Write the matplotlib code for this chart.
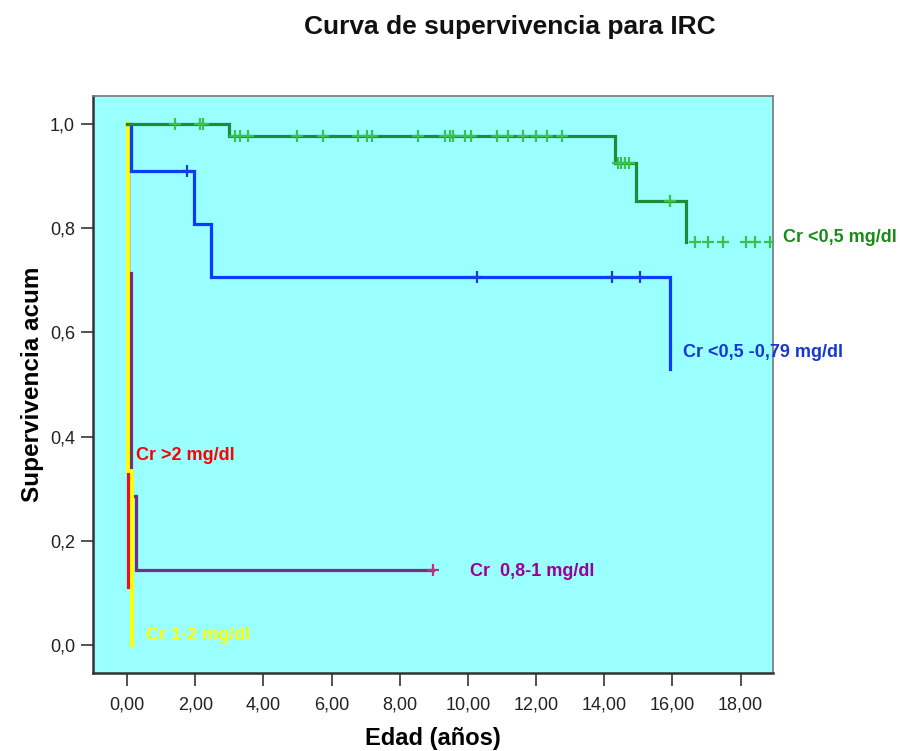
import numpy as np
import matplotlib
matplotlib.use("Agg")
from matplotlib import pyplot as plt

# Kaplan-Meier steps per creatinine group: event times and survival after each event
greenTimes = [3.0, 14.31, 14.93, 16.41]
greenSurv = [0.977, 0.925, 0.853, 0.774]
greenCensored = [1.41, 2.14, 2.22, 3.17, 3.31, 3.56, 4.98, 5.76, 6.78, 7.05, 7.2,
                 8.54, 9.33, 9.47, 9.57, 9.91, 10.1, 10.84, 11.18, 11.62, 12.01,
                 12.31, 12.75, 14.4, 14.5, 14.6, 14.72, 15.92, 16.66, 17.05, 17.49,
                 18.17, 18.42, 18.86]

blueTimes = [0.11, 1.97, 2.47, 15.93]
blueSurv = [0.909, 0.808, 0.707, 0.530]
blueCensored = [1.75, 10.27, 14.22, 15.05]

redTimes = [0.04]
redSurv = [0.111]
redCensored = []

purpleTimes = [0.04, 0.13, 0.25]
purpleSurv = [0.714, 0.286, 0.143]
purpleCensored = [8.97]

yellowTimes = [0.04, 0.15]
yellowSurv = [0.333, 0.0]
yellowCensored = []

groupLabels = ["Cr <0,5 mg/dl", "Cr <0,5 -0,79 mg/dl", "Cr >2 mg/dl",
               "Cr  0,8-1 mg/dl", "Cr 1-2 mg/dl"]

xTicks = [0, 2, 4, 6, 8, 10, 12, 14, 16, 18]
yTicks = [0.0, 0.2, 0.4, 0.6, 0.8, 1.0]

sans = ["Liberation Sans", "DejaVu Sans"]


def stepPath(times, surv, censored):
    xs = [0.0]
    ys = [1.0]
    level = 1.0
    for t, s in zip(times, surv):
        xs += [t, t]
        ys += [level, s]
        level = s
    end = max(censored) if censored else times[-1]
    if end > xs[-1]:
        xs.append(end)
        ys.append(level)
    return xs, ys


def levelAt(times, surv, t):
    idx = np.searchsorted(times, t, side="right")
    return 1.0 if idx == 0 else surv[idx - 1]


groups = [
    {"t": redTimes, "s": redSurv, "c": redCensored, "line": "#ee1020", "mark": "#ee1020", "tail": True, "lw": 2.3},
    {"t": purpleTimes, "s": purpleSurv, "c": purpleCensored, "line": "#7a2d7d", "mark": "#c2307e", "tail": True, "lw": 2.3},
    {"t": yellowTimes, "s": yellowSurv, "c": yellowCensored, "line": "#ffff00", "mark": "#ffff00", "tail": True, "lw": 2.8},
    {"t": blueTimes, "s": blueSurv, "c": blueCensored, "line": "#0a3cff", "mark": "#1a3fd8", "tail": True, "lw": 2.3},
    # the green curve stops at its last drop; only its censor marks go on
    {"t": greenTimes, "s": greenSurv, "c": greenCensored, "line": "#1c8c3c", "mark": "#3cc04c", "tail": False, "lw": 2.3},
]

fig = plt.figure(figsize=(9, 7.51), dpi=100)
ax = fig.add_axes([0.1033, 0.1039, 0.7556, 0.7683])
ax.set_facecolor("#99ffff")

for g in groups:
    xs, ys = stepPath(g["t"], g["s"], g["c"])
    if not g["tail"]:
        xs, ys = xs[:-1], ys[:-1]
    ax.plot(xs, ys, color=g["line"], lw=g["lw"], solid_joinstyle="miter", zorder=3)
    if g["c"]:
        cy = [levelAt(g["t"], g["s"], t) for t in g["c"]]
        ax.plot(g["c"], cy, ls="none", marker="+", ms=9, mew=1.6,
                color=g["mark"], zorder=4)

ax.set_xlim(-1.0, 18.95)
ax.set_ylim(-0.054, 1.054)
ax.set_xticks(xTicks)
ax.set_xticklabels(["{:.2f}".format(v).replace(".", ",") for v in xTicks],
                   family=sans, fontsize=13, color="#222222")
ax.set_yticks(yTicks)
ax.set_yticklabels(["{:.1f}".format(v).replace(".", ",") for v in yTicks],
                   family=sans, fontsize=13, color="#222222")
ax.tick_params(direction="out", length=9, width=1.3, color="#444444", pad=4)
ax.tick_params(axis="x", pad=8)

for side in ["left", "bottom"]:
    ax.spines[side].set_color("#333333")
    ax.spines[side].set_linewidth(1.8)
for side in ["right", "top"]:
    ax.spines[side].set_color("#777777")
    ax.spines[side].set_linewidth(1.2)

ax.set_xlabel("Edad (años)", family=sans, fontsize=17, fontweight="bold",
              labelpad=10)
ax.set_ylabel("Supervivencia acum", family=sans, fontsize=17.5, fontweight="bold",
              labelpad=4)
fig.text(510 / 900, 0.964, "Curva de supervivencia para IRC", ha="center",
         va="center", family=sans, fontsize=19, fontweight="bold", color="#111111")

labelColors = ["#1a8a1a", "#1538d4", "#ff0000", "#990099", "#ffff00"]
labelPos = [(783, 237), (683, 352), (136, 456), (470, 572), (146, 635)]
for text, col, (px, py) in zip(groupLabels, labelColors, labelPos):
    fig.text(px / 900, 1 - py / 751, text, ha="left", va="center", family=sans,
             fontsize=13, fontweight="bold", color=col, zorder=10)

fig.savefig("out.png", dpi=100)
